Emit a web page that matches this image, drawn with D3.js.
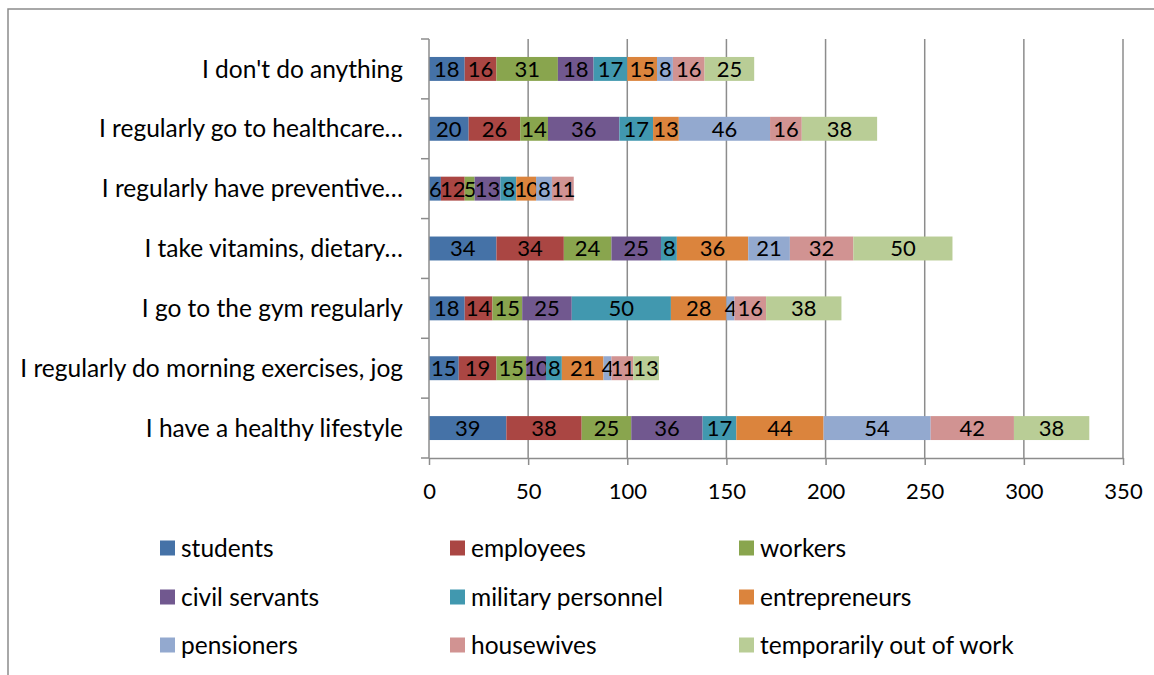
<!DOCTYPE html>
<html>
<head>
<meta charset="utf-8">
<script src="https://cdn.jsdelivr.net/npm/d3@7"></script>
<style>
  body { margin: 0; background: #fff; }
  svg { display: block; font-family: Lato, "Open Sans", sans-serif; }
</style>
</head>
<body>
<svg id="chart" width="1154" height="675"></svg>
<script>
// answers, top to bottom as drawn
const answers = [
  "I don't do anything",
  "I regularly go to healthcare…",
  "I regularly have preventive…",
  "I take vitamins, dietary…",
  "I go to the gym regularly",
  "I regularly do morning exercises, jog",
  "I have a healthy lifestyle"
];

const groups = [
  "students", "employees", "workers",
  "civil servants", "military personnel", "entrepreneurs",
  "pensioners", "housewives", "temporarily out of work"
];

const colors = [
  "#4572A7", "#AA4643", "#89A54E",
  "#71588F", "#4198AF", "#DB843D",
  "#93A9CF", "#D19392", "#B9CD96"
];

// one array per group, same order as answers
const students     = [18, 20, 6, 34, 18, 15, 39];
const employees    = [16, 26, 12, 34, 14, 19, 38];
const workers      = [31, 14, 5, 24, 15, 15, 25];
const civilServ    = [18, 36, 13, 25, 25, 10, 36];
const military     = [17, 17, 8, 8, 50, 8, 17];
const entrepreneur = [15, 13, 10, 36, 28, 21, 44];
const pensioners   = [8, 46, 8, 21, 4, 4, 54];
const housewives   = [16, 16, 11, 32, 16, 11, 42];
const outOfWork    = [25, 38, 0, 50, 38, 13, 38];

const xTicks = [0, 50, 100, 150, 200, 250, 300, 350];

const series = [students, employees, workers, civilServ, military,
  entrepreneur, pensioners, housewives, outOfWork];

const table = answers.map((a, i) => {
  const row = { answer: a };
  groups.forEach((g, j) => { row[g] = series[j][i]; });
  return row;
});

const stacked = d3.stack().keys(groups)(table);

const svg = d3.select('#chart');
const grey = '#8c8c8c';

// outer frame
svg.append('path')
  .attr('d', 'M8,675 V9 H1154')
  .attr('fill', 'none')
  .attr('stroke', grey)
  .attr('stroke-width', 1.5);

const plotTop = 39, plotBottom = 458;
const x = d3.scaleLinear().domain([0, 350]).range([429, 1123]);
const y = d3.scaleBand().domain(answers).range([plotTop, plotBottom]).paddingInner(0.6).paddingOuter(0.3);
const step = (plotBottom - plotTop) / answers.length;

// gridlines
svg.append('g')
  .selectAll('line')
  .data(xTicks.slice(1))
  .join('line')
  .attr('x1', d => x(d)).attr('x2', d => x(d))
  .attr('y1', plotTop).attr('y2', plotBottom)
  .attr('stroke', grey).attr('stroke-width', 1.5);

// bars
const $layer = svg.append('g')
  .selectAll('g')
  .data(stacked)
  .join('g')
  .attr('fill', (d, i) => colors[i]);

$layer.selectAll('rect')
  .data(d => d)
  .join('rect')
  .attr('x', d => x(d[0]))
  .attr('width', d => x(d[1]) - x(d[0]))
  .attr('y', d => y(d.data.answer))
  .attr('height', y.bandwidth());

// value labels (small segments get a tighter font, like the original crowding)
$layer.selectAll('text')
  .data(d => d.filter(p => p[1] - p[0] > 0))
  .join('text')
  .attr('x', d => (x(d[0]) + x(d[1])) / 2)
  .attr('y', d => y(d.data.answer) + y.bandwidth() / 2)
  .attr('dy', '0.36em')
  .attr('text-anchor', 'middle')
  .attr('fill', '#000')
  .attr('font-size', 22)
  .attr('letter-spacing', d => (d[1] - d[0] < 12 ? -1 : 0))
  .text(d => d[1] - d[0]);

// x axis
const xAxis = svg.append('g')
  .attr('transform', `translate(0,${plotBottom})`)
  .call(d3.axisBottom(x).tickValues(xTicks).tickSize(7).tickSizeOuter(0).tickPadding(18));
xAxis.select('.domain').attr('stroke', grey).attr('stroke-width', 1.5);
xAxis.selectAll('.tick line').attr('stroke', grey).attr('stroke-width', 1.5);
xAxis.selectAll('.tick text')
  .attr('font-size', 22)
  .attr('font-family', 'Lato, "Open Sans", sans-serif')
  .attr('fill', '#000');

// y axis line and category ticks
svg.append('line')
  .attr('x1', x(0)).attr('x2', x(0))
  .attr('y1', plotTop).attr('y2', plotBottom)
  .attr('stroke', grey).attr('stroke-width', 1.5);

svg.append('g')
  .selectAll('line')
  .data(d3.range(answers.length + 1))
  .join('line')
  .attr('x1', x(0) - 8).attr('x2', x(0))
  .attr('y1', i => plotTop + i * step).attr('y2', i => plotTop + i * step)
  .attr('stroke', grey).attr('stroke-width', 1.5);

svg.append('g')
  .selectAll('text')
  .data(answers)
  .join('text')
  .attr('x', 403)
  .attr('y', d => y(d) + y.bandwidth() / 2)
  .attr('dy', '0.35em')
  .attr('text-anchor', 'end')
  .attr('font-size', 24.5)
  .attr('fill', '#000')
  .text(d => d);

// legend, three columns
const legCols = [160, 450, 739];
const legRows = [548, 597, 645];

const $leg = svg.append('g')
  .selectAll('g')
  .data(groups)
  .join('g')
  .attr('transform', (d, i) => `translate(${legCols[i % 3]},${legRows[Math.floor(i / 3)]})`);

$leg.append('rect')
  .attr('x', 0).attr('y', -7.5)
  .attr('width', 15).attr('height', 15)
  .attr('fill', (d, i) => colors[i]);

$leg.append('text')
  .attr('x', 21)
  .attr('dy', '0.35em')
  .attr('font-size', 24.5)
  .attr('fill', '#000')
  .text(d => d);
</script>
</body>
</html>
